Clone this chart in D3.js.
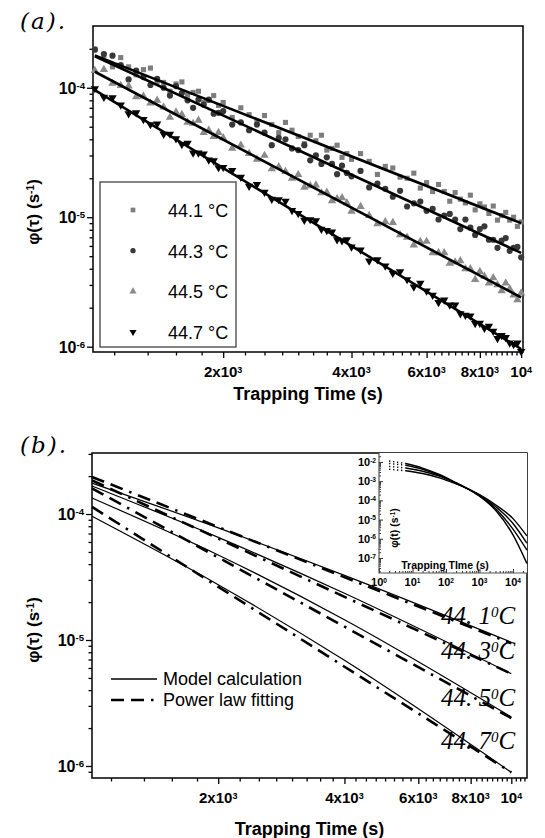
<!DOCTYPE html>
<html>
<head>
<meta charset="utf-8">
<script src="https://cdn.jsdelivr.net/npm/d3@7"></script>
<style>
  body { margin: 0; background: #fff; }
  svg { display: block; font-family: "Liberation Sans", Arial, sans-serif; }
</style>
</head>
<body>
<svg id="chart" width="545" height="838"></svg>
<script>
// ---- data (phi values in units of 1e-6 s^-1 unless noted) ----
const UNIT = 1e-6;
const temps = ["44.1", "44.3", "44.5", "44.7"];

const times = [1000, 1050, 1100, 1150, 1200, 1250, 1300, 1350, 1400, 1450, 1500, 1550, 1600, 1650, 1700, 1750, 1800, 1850, 1900, 1950,
  2000, 2100, 2200, 2300, 2400, 2500, 2600, 2700, 2800, 2900, 3000, 3100, 3200, 3300, 3400, 3500, 3600, 3700, 3800, 3900,
  4000, 4200, 4400, 4600, 4800, 5000, 5200, 5400, 5600, 5800, 6000, 6200, 6400, 6600, 6800, 7000, 7200, 7400, 7600, 7800,
  8000, 8200, 8400, 8600, 8800, 9000, 9200, 9400, 9600, 9800, 10000];

const phi441 = [199, 177, 145, 171, 145, 126, 138, 142, 112, 110, 94, 107, 111, 88, 92, 94, 77, 80, 87, 73,
  77, 59, 70, 62, 54, 61, 52, 45, 54, 47, 42, 37, 43, 39, 43, 33, 34, 36, 29, 31,
  28, 31, 27, 21.4, 24.7, 24, 20.4, 20, 21.9, 16.8, 18.5, 15.8, 17.9, 15.8, 13.3, 15.5, 13.8, 12.9, 14.8, 11.4,
  12.7, 12, 10.7, 12.2, 9.5, 10.3, 10.9, 9.5, 10, 8.5, 9.2];
const phi443 = [197, 182, 177, 150, 116, 136, 121, 105, 117, 100, 87, 103, 91, 80, 70, 81, 74, 81, 63, 64,
  66, 52, 54, 47, 52, 45, 36, 41, 40, 34, 33, 36, 27.5, 30, 25.8, 29, 25.8, 21.5, 25, 22,
  20.7, 22.8, 17, 18.2, 16.6, 14.4, 16, 12.1, 12.8, 13.2, 11.2, 11.6, 9.6, 10.3, 10.6, 9.6, 8.1, 9.6, 8.3, 7.3,
  8.1, 8.5, 6.7, 6.7, 5.8, 6.6, 6.9, 5.5, 5.8, 5.9, 4.9];
const phi445 = [136, 138, 108, 104, 103, 85, 86, 76, 80, 71, 59, 65, 62, 54, 53, 56, 45, 47, 42, 45,
  41, 34, 36, 31, 28, 30, 23.6, 24.5, 22.5, 20, 21.3, 17, 17.5, 17.7, 15.4, 15.6, 13.4, 13.9, 14.1, 12.9,
  11.1, 12.1, 10.3, 8.9, 9.2, 9.1, 7.3, 7, 6.1, 6.5, 6.5, 5.3, 5.3, 5.3, 4.4, 4.5, 4.6, 4, 4, 3.3,
  3.8, 3.5, 3.1, 3.4, 3, 2.7, 3.1, 2.8, 2.5, 2.3, 2.6];
const phi447 = [98.6, 84.7, 83.9, 73.6, 63.1, 64.1, 56.9, 52, 52.5, 43.8, 43.9, 40.5, 36.5, 37.3, 31.4, 31.4, 30.9, 27.7, 27.3, 24.2,
  24.3, 23, 20.4, 17.4, 17.9, 15.6, 13.8, 13.7, 13.3, 11.3, 10.7, 9.5, 9.6, 9.4, 8.1, 7.9, 7.7, 6.7, 6.6, 6.7,
  5.9, 5.6, 4.6, 4.7, 4.2, 3.7, 3.8, 3.3, 2.9, 3.1, 2.7, 2.5, 2.2, 2.3, 2.1, 2.1, 1.8, 1.75, 1.73, 1.51,
  1.52, 1.39, 1.44, 1.32, 1.16, 1.22, 1.18, 1.07, 1.04, 1.07, 0.92];

// power-law fits in (a)
const fitT = [1000, 10000];
const fit441 = [178, 9.0];
const fit443 = [175, 5.3];
const fit445 = [133, 2.4];
const fit447 = [96, 0.96];

// (b) model calculation and power law fitting
const modelT = [1000, 2000, 4000, 10000];
const model441 = [176, 77.6, 32.6, 9.6];
const model443 = [167, 65.3, 23.5, 5.4];
const model445 = [134, 47.3, 14.5, 2.45];
const model447 = [96, 27.5, 6.9, 0.89];
const powT = [1000, 10000];
const pow441 = [197, 9.4];
const pow443 = [185, 5.4];
const pow445 = [160, 2.4];
const pow447 = [114, 0.89];

// inset (absolute values, s^-1)
const insetT = [2, 6.3, 20, 63, 200, 450, 1000, 3160, 10000, 26000];
const ins441 = [4.2e-3, 3.5e-3, 2.5e-3, 1.5e-3, 7.2e-4, 4.0e-4, 2.0e-4, 5.6e-5, 1.12e-5, 1.4e-6];
const ins443 = [5.9e-3, 4.9e-3, 3.3e-3, 1.82e-3, 7.8e-4, 4.0e-4, 1.9e-4, 4.5e-5, 6.3e-6, 5.9e-7];
const ins445 = [8.3e-3, 6.8e-3, 4.2e-3, 2.04e-3, 8.1e-4, 4.0e-4, 1.78e-4, 3.5e-5, 3.2e-6, 2.6e-7];
const ins447 = [1.12e-2, 8.3e-3, 4.8e-3, 2.24e-3, 8.3e-4, 4.0e-4, 1.66e-4, 2.8e-5, 1.6e-6, 5.2e-8];

// ticks
const xMajor = [2000, 4000, 6000, 8000, 10000];
const xMinorLow = [1110, 1330, 1550, 1780];
const yMajor = [1e-6, 1e-5, 1e-4];
const insetXMajor = [1, 10, 100, 1000, 10000];
const insetYMajor = [1e-7, 1e-6, 1e-5, 1e-4, 1e-3, 1e-2];

const svg = d3.select("#chart");

// ---- helpers ----
function powLabel(sel, v) {
  const e = Math.floor(Math.log10(v) + 1e-9);
  const m = Math.round(v / Math.pow(10, e));
  sel.append("tspan").text(m === 1 ? "10" : m + "x10");
  sel.append("tspan").attr("dy", "-0.5em").attr("font-size", "0.6em").text(e);
}

function logMinor(domain) { // 2..9 x 10^e inside the domain
  const out = [];
  for (let e = Math.floor(Math.log10(domain[0])) - 1; e <= Math.ceil(Math.log10(domain[1])); e++)
    for (let m = 2; m <= 9; m++) {
      const v = m * Math.pow(10, e);
      if (v >= domain[0] && v <= domain[1]) out.push(v);
    }
  return out;
}

function tickStyle(a) {
  a.select(".domain").remove();
  a.selectAll("line").attr("stroke", "#000").attr("stroke-width", 1.3);
}

function panel(x, y, xMinor) {
  const g = svg.append("g");
  const [x0, x1] = x.range(), [y0, y1] = y.range();
  // x ticks
  g.append("g").attr("transform", `translate(0,${y0})`)
    .call(d3.axisBottom(x).tickValues(xMinor).tickSize(3.5).tickFormat(""))
    .call(tickStyle);
  g.append("g").attr("transform", `translate(0,${y0})`)
    .call(d3.axisBottom(x).tickValues(xMajor).tickSize(6).tickFormat(""))
    .call(tickStyle);
  g.selectAll(".xl").data(xMajor).join("text")
    .attr("x", d => x(d)).attr("y", y0 + 25)
    .attr("text-anchor", "middle").attr("font-size", 15).attr("font-weight", "bold")
    .each(function (d) { powLabel(d3.select(this), d); });
  // y ticks
  g.append("g").attr("transform", `translate(${x0},0)`)
    .call(d3.axisLeft(y).tickValues(logMinor(y.domain())).tickSize(3.5).tickFormat(""))
    .call(tickStyle);
  g.append("g").attr("transform", `translate(${x0},0)`)
    .call(d3.axisLeft(y).tickValues(yMajor).tickSize(6).tickFormat(""))
    .call(tickStyle);
  g.selectAll(".yl").data(yMajor).join("text")
    .attr("x", x0 - 8).attr("y", d => y(d) + 6)
    .attr("text-anchor", "end").attr("font-size", 16).attr("font-weight", "bold")
    .each(function (d) { powLabel(d3.select(this), d); });
  // frame
  g.append("rect").attr("x", x0).attr("y", y1).attr("width", x1 - x0).attr("height", y0 - y1)
    .attr("fill", "none").attr("stroke", "#000").attr("stroke-width", 1.5);
  return g;
}

function axisTitles(g, x, xBase, yCenter) {
  g.append("text").attr("x", (x.range()[0] + x.range()[1]) / 2).attr("y", xBase)
    .attr("text-anchor", "middle").attr("font-size", 18).attr("font-weight", "bold")
    .text("Trapping Time (s)");
  const t = g.append("text").attr("transform", `translate(39,${yCenter}) rotate(-90)`)
    .attr("text-anchor", "middle").attr("font-size", 17).attr("font-weight", "bold");
  t.append("tspan").text("φ(τ) (s");
  t.append("tspan").attr("dy", "-0.5em").attr("font-size", "0.6em").text("-1");
  t.append("tspan").attr("dy", "0.3em").text(")");
}

function panelTag(txt, y) {
  svg.append("text").attr("x", 20).attr("y", y)
    .style("font-family", "'DejaVu Serif', serif").style("font-style", "italic")
    .attr("font-size", 23).attr("letter-spacing", 2).text(txt);
}

const minorTail = d3.range(2250, 11000, 250).filter(v => v % 2000 !== 0);

// ================= (a) =================
const xa = d3.scaleLog().domain([990, 10100]).range([93, 523]);
const ya = d3.scaleLog().domain([9.1e-7, 3.0e-4]).range([352, 26]);
const ga = panel(xa, ya, xMinorLow.concat(minorTail.filter(v => v < 10100)));
axisTitles(ga, xa, 400, 212);
panelTag("(a).", 29);

const seriesA = [
  { vals: phi441, fit: fit441, sym: d3.symbolSquare, size: 26, color: "#7d7d7d" },
  { vals: phi443, fit: fit443, sym: d3.symbolCircle, size: 30, color: "#383838" },
  { vals: phi445, fit: fit445, sym: d3.symbolTriangle, size: 30, color: "#8a8a8a" },
  { vals: phi447, fit: fit447, sym: d3.symbolTriangle, size: 30, color: "#050505", flip: true }
];

seriesA.forEach(s => {
  ga.append("g").selectAll("path").data(s.vals).join("path")
    .attr("transform", (d, i) => `translate(${xa(times[i])},${ya(d * UNIT)})${s.flip ? " rotate(180)" : ""}`)
    .attr("d", d3.symbol(s.sym, s.size)).attr("fill", s.color);
});
seriesA.forEach(s => {
  ga.append("path").datum(s.fit)
    .attr("fill", "none").attr("stroke", "#000").attr("stroke-width", 2.6)
    .attr("d", d3.line().x((d, i) => xa(fitT[i])).y(d => ya(d * UNIT)));
});

// legend (a)
const lg = ga.append("g");
lg.append("rect").attr("x", 100).attr("y", 182).attr("width", 136).attr("height", 165)
  .attr("fill", "#fff").attr("stroke", "#333").attr("stroke-width", 1.2);
const legY = d3.scalePoint().domain(temps).range([210, 332]);
seriesA.forEach((s, i) => {
  lg.append("path")
    .attr("transform", `translate(133,${legY(temps[i])})${s.flip ? " rotate(180)" : ""}`)
    .attr("d", d3.symbol(s.sym, 22)).attr("fill", s.color);
  lg.append("text").attr("x", 168).attr("y", legY(temps[i]) + 7)
    .attr("font-size", 18).text(temps[i] + " °C");
});

// ================= (b) =================
const xb = d3.scaleLog().domain([1000, 10900]).range([92, 527]);
const yb = d3.scaleLog().domain([8.03e-7, 3.05e-4]).range([778, 453]);
const gb = panel(xb, yb, xMinorLow.concat(minorTail));
axisTitles(gb, xb, 835, 630);
panelTag("(b).", 453);

const dashPat = "13,7,13,7,2.5,7";
const models = [model441, model443, model445, model447];
const pows = [pow441, pow443, pow445, pow447];
models.forEach(m => {
  gb.append("path").datum(m).attr("fill", "none").attr("stroke", "#000").attr("stroke-width", 1.2)
    .attr("d", d3.line().x((d, i) => xb(modelT[i])).y(d => yb(d * UNIT)).curve(d3.curveMonotoneX));
});
pows.forEach(p => {
  gb.append("path").datum(p).attr("fill", "none").attr("stroke", "#000").attr("stroke-width", 2.6)
    .attr("stroke-dasharray", dashPat)
    .attr("d", d3.line().x((d, i) => xb(powT[i])).y(d => yb(d * UNIT)));
});

// temperature labels
const labY = [624, 659, 706, 749];
temps.forEach((t, i) => {
  const parts = t.split(".");
  const tx = gb.append("text").attr("x", 441).attr("y", labY[i])
    .style("font-family", "'Liberation Serif', 'Times New Roman', serif").style("font-style", "italic")
    .attr("font-size", 25);
  tx.append("tspan").text(parts[0] + ". " + parts[1]);
  tx.append("tspan").attr("dy", "-0.45em").attr("font-size", "0.6em").text("0");
  tx.append("tspan").attr("dy", "0.27em").text("C");
});

// legend (b)
gb.append("line").attr("x1", 111).attr("x2", 157).attr("y1", 679).attr("y2", 679)
  .attr("stroke", "#000").attr("stroke-width", 1.3);
gb.append("text").attr("x", 163).attr("y", 685).attr("font-size", 18).text("Model calculation");
gb.append("line").attr("x1", 111).attr("x2", 157).attr("y1", 700).attr("y2", 700)
  .attr("stroke", "#000").attr("stroke-width", 2.6).attr("stroke-dasharray", dashPat);
gb.append("text").attr("x", 163).attr("y", 706).attr("font-size", 18).text("Power law fitting");

// ---- inset ----
const xi = d3.scaleLog().domain([1, 26200]).range([379, 527]);
const yi = d3.scaleLog().domain([1.65e-8, 2.94e-2]).range([573, 453]);
const gi = svg.append("g");
gi.append("rect").attr("x", 379).attr("y", 453).attr("width", 148).attr("height", 120).attr("fill", "#fff");
gi.append("g").attr("transform", "translate(0,573)")
  .call(d3.axisBottom(xi).tickValues(logMinor(xi.domain())).tickSize(-2).tickFormat(""))
  .call(tickStyle);
gi.append("g").attr("transform", "translate(0,573)")
  .call(d3.axisBottom(xi).tickValues(insetXMajor).tickSize(-4).tickFormat(""))
  .call(tickStyle);
gi.append("g").attr("transform", "translate(379,0)")
  .call(d3.axisLeft(yi).tickValues(logMinor(yi.domain())).tickSize(-2).tickFormat(""))
  .call(tickStyle);
gi.append("g").attr("transform", "translate(379,0)")
  .call(d3.axisLeft(yi).tickValues(insetYMajor).tickSize(-4).tickFormat(""))
  .call(tickStyle);
gi.selectAll("line").attr("stroke-width", 0.8);
gi.append("path").attr("d", "M379,453V573H527").attr("fill", "none").attr("stroke", "#555").attr("stroke-width", 1.2);
gi.selectAll(".ixl").data(insetXMajor).join("text")
  .attr("x", d => xi(d)).attr("y", 586).attr("text-anchor", "middle")
  .attr("font-size", 11).attr("font-weight", "bold")
  .each(function (d) { powLabel(d3.select(this), d); });
gi.selectAll(".iyl").data(insetYMajor).join("text")
  .attr("x", 376).attr("y", d => yi(d) + 4).attr("text-anchor", "end")
  .attr("font-size", 11).attr("font-weight", "bold")
  .each(function (d) { powLabel(d3.select(this), d); });
gi.append("text").attr("x", 445).attr("y", 569).attr("text-anchor", "middle")
  .attr("font-size", 10.5).attr("font-weight", "bold").text("Trapping TIme (s)");
const iy = gi.append("text").attr("transform", "translate(398,528) rotate(-90)")
  .attr("text-anchor", "middle").attr("font-size", 10.5).attr("font-weight", "bold");
iy.append("tspan").text("φ(t) (s");
iy.append("tspan").attr("dy", "-0.5em").attr("font-size", "0.6em").text("-1");
iy.append("tspan").attr("dy", "0.3em").text(")");

[ins441, ins443, ins445, ins447].forEach(c => {
  const pts = c.map((v, i) => [xi(insetT[i]), yi(v)]);
  gi.append("path").attr("d", d3.line()(pts.slice(0, 2)))
    .attr("fill", "none").attr("stroke", "#000").attr("stroke-width", 1.4).attr("stroke-dasharray", "1.3,2.7");
  gi.append("path").attr("d", d3.line().curve(d3.curveMonotoneX)(pts.slice(1)))
    .attr("fill", "none").attr("stroke", "#000").attr("stroke-width", 1.4);
});
</script>
</body>
</html>
